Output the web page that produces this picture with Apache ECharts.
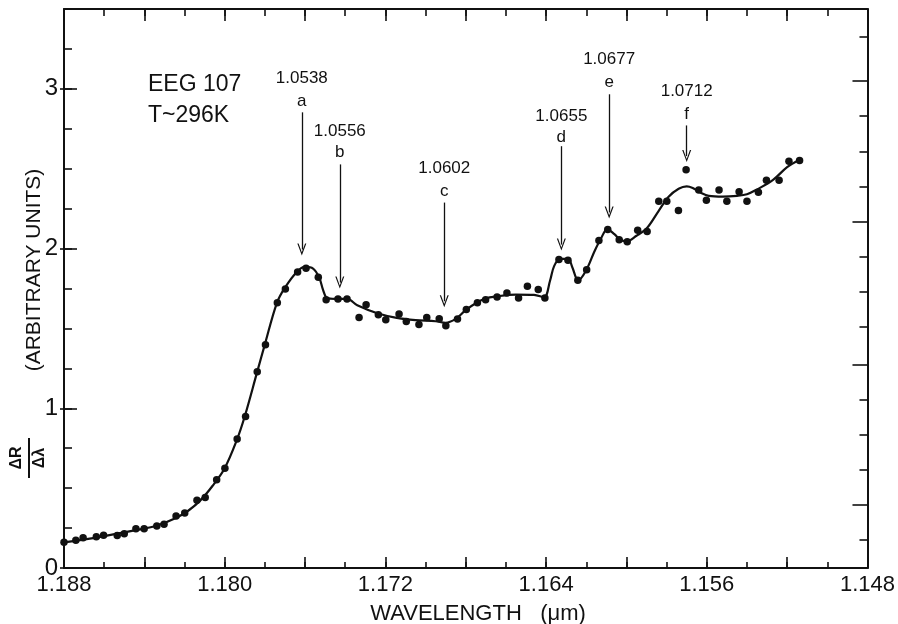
<!DOCTYPE html>
<html>
<head>
<meta charset="utf-8">
<script src="https://cdn.jsdelivr.net/npm/echarts@6/dist/echarts.min.js"></script>
<style>
html,body{margin:0;padding:0;background:#fff;}
#chart{width:898px;height:624px;}
</style>
</head>
<body>
<div id="chart"></div>
<script>
// ---- data ----
var dotsWl = [1.18800,1.18741,1.18705,1.18639,1.18603,1.18535,1.18500,1.18442,1.18401,1.18338,1.18302,1.18242,1.18199,1.18138,1.18097,1.18040,1.17999,1.17938,1.17896,1.17838,1.17797,1.17738,1.17698,1.17637,1.17595,1.17534,1.17495,1.17436,1.17391,1.17331,1.17296,1.17235,1.17198,1.17132,1.17096,1.17033,1.16994,1.16932,1.16899,1.16841,1.16797,1.16742,1.16701,1.16644,1.16595,1.16537,1.16493,1.16439,1.16406,1.16336,1.16291,1.16242,1.16198,1.16137,1.16093,1.16036,1.15996,1.15944,1.15897,1.15839,1.15799,1.15741,1.15703,1.15640,1.15602,1.15539,1.15500,1.15439,1.15400,1.15343,1.15303,1.15240,1.15191,1.15138];
var dotsR = [0.161,0.174,0.19,0.196,0.205,0.203,0.215,0.246,0.246,0.263,0.274,0.326,0.345,0.424,0.441,0.552,0.625,0.807,0.949,1.229,1.398,1.66,1.747,1.854,1.877,1.82,1.68,1.685,1.685,1.569,1.649,1.586,1.555,1.59,1.544,1.524,1.569,1.561,1.517,1.559,1.618,1.66,1.68,1.697,1.722,1.69,1.764,1.743,1.69,1.931,1.927,1.801,1.868,2.05,2.119,2.056,2.042,2.115,2.107,2.297,2.297,2.238,2.493,2.366,2.302,2.366,2.297,2.355,2.297,2.353,2.428,2.428,2.547,2.552];

var curveWl = [1.1880,1.1862,1.1843,1.1834,1.1824,1.1818,1.1812,1.1806,1.1800,1.1794,1.1790,1.1784,1.1780,1.1774,1.1770,1.1764,1.1760,1.1756,1.1753,1.1751,1.1749,1.1745,1.1739,1.1734,1.1724,1.1715,1.1705,1.1695,1.1690,1.1685,1.1680,1.1675,1.1670,1.1665,1.1655,1.1646,1.1641,1.1638,1.1636,1.1633,1.1629,1.1627,1.1624,1.1620,1.1616,1.1613,1.16095,1.1606,1.1603,1.1600,1.1595,1.1590,1.1584,1.1579,1.1574,1.1570,1.1567,1.1563,1.1559,1.1552,1.1545,1.1540,1.1535,1.1527,1.1520,1.1514];
var curveR = [0.16,0.195,0.24,0.265,0.315,0.36,0.425,0.515,0.625,0.80,0.95,1.22,1.40,1.66,1.755,1.855,1.885,1.875,1.82,1.74,1.69,1.685,1.685,1.645,1.595,1.568,1.552,1.545,1.535,1.56,1.615,1.658,1.688,1.70,1.712,1.71,1.695,1.80,1.89,1.935,1.935,1.885,1.80,1.865,1.98,2.055,2.12,2.09,2.055,2.045,2.08,2.125,2.235,2.325,2.375,2.39,2.38,2.35,2.33,2.325,2.33,2.34,2.37,2.43,2.51,2.555];

var annotWl = [1.17616,1.17427,1.16907,1.16324,1.16086,1.15700];
var annotNum = ['1.0538','1.0556','1.0602','1.0655','1.0677','1.0712'];
var annotLetter = ['a','b','c','d','e','f'];
var annotNumY = [3.066,2.735,2.502,2.830,3.185,2.986];
var annotLetterY = [2.924,2.602,2.359,2.694,3.039,2.840];
var arrowTop = [2.853,2.527,2.288,2.641,2.966,2.771];
var arrowBottom = [1.994,1.787,1.670,2.025,2.226,2.579];

var yLabelTicks = [0,1,2,3];
var rightShortTicks = [3.324,2.829,2.609,2.390,1.951,1.731,1.512,1.054,0.834,0.615,0.176];
var rightLongTicks = [3.048,2.170,1.273,0.395];

// ---- chart ----
var ink = '#111';
var FONT = "'Liberation Sans', Arial, sans-serif";
var chart = echarts.init(document.getElementById('chart'), null, {renderer:'canvas'});

function xAxisDef(pos, interval, len, main) {
  return {
    type:'value', position: pos, inverse:true, min:1.148, max:1.188, interval: interval,
    axisLine:{show: main, onZero:false, lineStyle:{color:ink, width:2}},
    axisTick:{show:true, inside:true, length: len, lineStyle:{color:ink, width:1.6}},
    axisLabel:{show: main && pos==='bottom', margin:6, color:ink, fontSize:22, fontFamily:FONT,
      formatter:function(v){ var k = Math.round(v*1000); return (k % 8 === 4) ? v.toFixed(3) : ''; }},
    splitLine:{show:false}
  };
}
function yAxisDef(pos, opts) {
  var base = {
    type:'value', position: pos, min:0, max:3.5,
    axisLine:{show:false, lineStyle:{color:ink, width:2}},
    axisTick:{show:true, inside:true, length:8, lineStyle:{color:ink, width:1.6}},
    axisLabel:{show:false},
    splitLine:{show:false}
  };
  for (var k in opts) base[k] = opts[k];
  return base;
}

var numData = annotWl.map(function(w,i){ return {value:[w, annotNumY[i]], label:{formatter: annotNum[i]}}; });
var letData = annotWl.map(function(w,i){ return {value:[w, annotLetterY[i]], label:{formatter: annotLetter[i]}}; });
var arrows = annotWl.map(function(w,i){ return [{coord:[w, arrowTop[i]]},{coord:[w, arrowBottom[i]]}]; });

var option = {
  backgroundColor:'#fff',
  animation:false,
  grid:{left:64, right:21, top:9, bottom:56},
  xAxis:[
    xAxisDef('bottom', 0.002, 6, true),
    xAxisDef('bottom', 0.004, 11, false),
    xAxisDef('top', 0.002, 7, true),
    xAxisDef('top', 0.004, 12, false)
  ],
  yAxis:[
    yAxisDef('left', {interval:0.25, axisLine:{show:true, onZero:false, lineStyle:{color:ink,width:2}},
      axisLabel:{show:true, margin:6, color:ink, fontSize:24, fontFamily:FONT,
        formatter:function(v){ return (Math.abs(v - Math.round(v)) < 1e-6) ? String(Math.round(v)) : ''; }}}),
    yAxisDef('left', {interval:1, axisTick:{show:true, inside:true, length:13, customValues: yLabelTicks, lineStyle:{color:ink,width:1.6}}}),
    yAxisDef('left', {interval:1, axisTick:{show:true, inside:false, length:4, customValues: yLabelTicks, lineStyle:{color:ink,width:1.6}}}),
    yAxisDef('right', {interval:0.25, axisLine:{show:true, onZero:false, lineStyle:{color:ink,width:2}},
      axisTick:{show:true, inside:true, length:8, customValues: rightShortTicks, lineStyle:{color:ink,width:1.6}}}),
    yAxisDef('right', {interval:0.25, axisTick:{show:true, inside:true, length:15, customValues: rightLongTicks, lineStyle:{color:ink,width:1.6}}})
  ],
  series:[
    {
      name:'fit', type:'line', xAxisIndex:0, yAxisIndex:0, smooth:0.35, showSymbol:false, silent:true,
      lineStyle:{color:ink, width:2.2},
      data: curveWl.map(function(w,i){ return [w, curveR[i]]; })
    },
    {
      name:'data', type:'scatter', xAxisIndex:0, yAxisIndex:0, symbol:'circle', symbolSize:7.5, silent:true,
      clip:false,
      itemStyle:{color:ink, opacity:1},
      data: dotsWl.map(function(w,i){ return [w, dotsR[i]]; })
    },
    {
      name:'numbers', type:'scatter', xAxisIndex:0, yAxisIndex:0, symbolSize:0.1, silent:true,
      itemStyle:{color:'rgba(0,0,0,0)', opacity:1},
      label:{show:true, position:'inside', color:ink, fontSize:17, fontFamily:FONT},
      data: numData,
      markLine:{
        silent:true, animation:false,
        symbol:['none','path://M5,0 L10,12 L8.6,12 L5,3.2 L1.4,12 L0,12 Z'],
        symbolSize:[9,12],
        label:{show:false},
        lineStyle:{color:ink, width:1.3, type:'solid', opacity:1},
        itemStyle:{color:ink, opacity:1},
        data: arrows
      }
    },
    {
      name:'letters', type:'scatter', xAxisIndex:0, yAxisIndex:0, symbolSize:0.1, silent:true,
      itemStyle:{color:'rgba(0,0,0,0)', opacity:1},
      label:{show:true, position:'inside', color:ink, fontSize:17, fontFamily:FONT},
      data: letData
    }
  ],
  graphic:[
    {type:'text', left:148, top:73, style:{text:'EEG 107', fill:ink, font:'23px ' + FONT}},
    {type:'text', left:148, top:104, style:{text:'T~296K', fill:ink, font:'23px ' + FONT}},
    {type:'text', x:478, y:614, style:{text:'WAVELENGTH   (\u03bcm)', fill:ink, font:'22px ' + FONT, align:'center', verticalAlign:'middle'}},
    {type:'text', x:34, y:270, rotation:Math.PI/2, style:{text:'(ARBITRARY UNITS)', fill:ink, font:'21px ' + FONT, align:'center', verticalAlign:'middle'}},
    {type:'group', x:29, y:458, rotation:Math.PI/2, children:[
      {type:'text', x:0, y:-4, style:{text:'\u0394R', fill:ink, font:'bold 16px ' + FONT, align:'center', verticalAlign:'bottom'}},
      {type:'line', shape:{x1:-20, y1:0, x2:20, y2:0}, style:{stroke:ink, lineWidth:2}},
      {type:'text', x:0, y:3, style:{text:'\u0394\u03bb', fill:ink, font:'bold 16px ' + FONT, align:'center', verticalAlign:'top'}}
    ]}
  ]
};
chart.setOption(option);
</script>
</body>
</html>
